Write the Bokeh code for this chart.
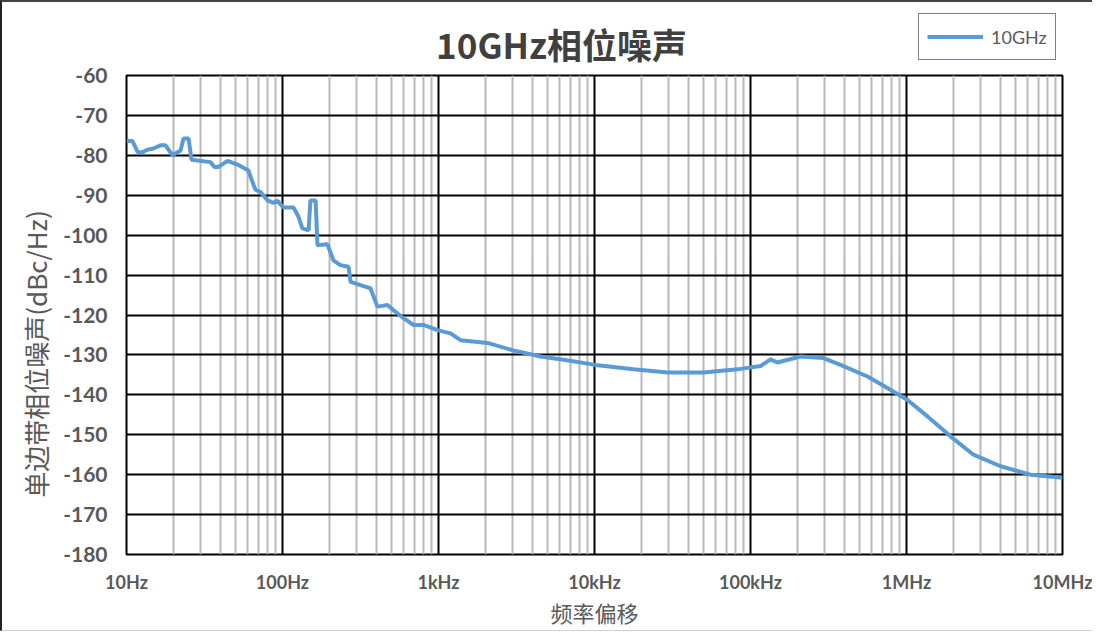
from bokeh.plotting import figure
from bokeh.layouts import column
from bokeh.models import FixedTicker, Range1d, Label, Legend, LegendItem
from bokeh.embed import file_html
from bokeh.resources import INLINE

# ---- data ----
freq_hz = [10.0, 10.9, 11.8, 12.7, 13.6, 14.9, 16.5, 17.8, 19.7, 22.2, 23.2, 25.0, 26.1,
           34.5, 36.6, 38.9, 44.4, 51.5, 60.5, 64.2, 67.1, 72.3, 80.2, 87.5, 92.9, 101.5,
           117.8, 126.7, 134, 147, 151, 163, 167.5, 194, 212, 235, 265, 273, 316, 366,
           406, 471, 515, 597, 692, 801, 986, 1194, 1384, 2061, 3028, 4510, 6330, 10150,
           17800, 29400, 50000, 86300, 115900, 134300, 148900, 209400, 294000, 377600,
           562000, 755000, 1014000, 1364000, 1915000, 2686000, 4008000, 6240000, 10000000]
noise_dbc = [-76.4, -76.4, -79.2, -79.2, -78.6, -78.3, -77.5, -77.5, -80.0, -78.8, -75.8,
             -75.8, -81.1, -81.7, -82.9, -82.9, -81.4, -82.3, -83.8, -86.7, -88.6, -89.2,
             -91.3, -91.9, -91.4, -93.1, -93.1, -95.4, -98.3, -98.8, -91.3, -91.3, -102.5,
             -102.3, -106.3, -107.5, -107.9, -111.7, -112.5, -113.3, -117.9, -117.5, -118.8,
             -120.8, -122.5, -122.5, -123.8, -124.6, -126.3, -127.0, -128.9, -130.4, -131.2,
             -132.5, -133.6, -134.4, -134.4, -133.5, -132.8, -131.1, -131.9, -130.4, -130.8,
             -132.5, -135.4, -138.3, -141.3, -145.4, -150.4, -155.0, -157.9, -160.0, -160.8]
x_ticks = [10, 100, 1000, 10000, 100000, 1000000, 10000000]
x_tick_labels = ["10Hz", "100Hz", "1kHz", "10kHz", "100kHz", "1MHz", "10MHz"]
y_ticks = [-180, -170, -160, -150, -140, -130, -120, -110, -100, -90, -80, -70, -60]
y_tick_labels = ["-180", "-170", "-160", "-150", "-140", "-130", "-120", "-110", "-100",
                 "-90", "-80", "-70", "-60"]
series_name = "10GHz"
title_text = "10GHz相位噪声"
x_label = "频率偏移"
y_label = "单边带相位噪声(dBc/Hz)"

minor = [d * k for d in x_ticks[:-1] for k in range(2, 10)]

GRAY = "#595959"
BLUE = "#5B9BD5"
W = 1090
HEAD_H = 72
OVERLAP = 14
LEFT = 124

# ---------- header strip: title + legend (frame aligned with the chart's) ----------
head = figure(width=W, height=HEAD_H, output_backend="svg", toolbar_location=None,
              x_range=Range1d(0, 1), y_range=Range1d(0, 1),
              x_axis_location=None, y_axis_location=None,
              min_border_left=LEFT, min_border_right=30,
              min_border_top=0, min_border_bottom=0, margin=(0, 0, -OVERLAP, 0))
head.outline_line_color = None
head.xgrid.visible = False
head.ygrid.visible = False
proxy = head.line(freq_hz, noise_dbc, line_color=BLUE, line_width=4)
head.add_layout(Label(x=435, y=31, x_units="screen", y_units="screen",
                      text=title_text, text_font="Noto Sans CJK SC", text_font_style="bold",
                      text_font_size="35px", text_color="#404040",
                      text_align="center", text_baseline="middle"))
lg = Legend(items=[LegendItem(label=series_name, renderers=[proxy])], location=(792, 14))
lg.border_line_color = "black"
lg.border_line_width = 1.5
lg.background_fill_alpha = 1
lg.label_text_font = "Lato"
lg.label_text_font_size = "18px"
lg.label_text_color = GRAY
lg.glyph_width = 56
lg.glyph_height = 29
lg.label_height = 29
lg.label_standoff = 8
lg.padding = 8
lg.margin = 0
head.add_layout(lg, "center")

# ---------- main chart ----------
p = figure(width=W, height=570, x_axis_type="log", output_backend="svg",
           toolbar_location=None, x_range=Range1d(10, 1e7), y_range=Range1d(-180, -60),
           min_border_left=LEFT, min_border_right=30, min_border_top=15,
           min_border_bottom=75)
p.border_fill_alpha = 0
p.outline_line_color = "black"
p.outline_line_width = 2

p.line(freq_hz, noise_dbc, line_color=BLUE, line_width=4)

xa = p.xaxis[0]
xa.ticker = FixedTicker(ticks=x_ticks, minor_ticks=minor)
xa.major_label_overrides = {t: l for t, l in zip(x_ticks, x_tick_labels)}
xa.major_label_text_font = "Lato"
xa.major_label_text_font_style = "bold"
xa.major_label_text_font_size = "18px"
xa.major_label_text_color = GRAY
xa.major_label_standoff = 10
xa.axis_line_color = None
xa.major_tick_line_color = None
xa.minor_tick_line_color = None
xa.axis_label = x_label
xa.axis_label_text_font = "Noto Sans CJK SC"
xa.axis_label_text_font_style = "normal"
xa.axis_label_text_font_size = "22px"
xa.axis_label_text_color = GRAY
xa.axis_label_standoff = 0

ya = p.yaxis[0]
ya.ticker = FixedTicker(ticks=y_ticks)
ya.major_label_overrides = {t: l for t, l in zip(y_ticks, y_tick_labels)}
ya.major_label_text_font = "Lato"
ya.major_label_text_font_style = "bold"
ya.major_label_text_font_size = "21px"
ya.major_label_text_color = GRAY
ya.major_label_standoff = 13
ya.axis_line_color = None
ya.major_tick_line_color = None
ya.minor_tick_line_color = None
ya.axis_label = y_label + "\u3000\u3000\u3000"
ya.axis_label_text_font = "Noto Sans CJK SC"
ya.axis_label_text_font_style = "normal"
ya.axis_label_text_font_size = "26px"
ya.axis_label_text_color = GRAY
ya.axis_label_standoff = 6

p.xgrid.grid_line_color = "black"
p.xgrid.grid_line_width = 2
p.xgrid.minor_grid_line_color = "#b8b8b8"
p.xgrid.minor_grid_line_width = 2
p.ygrid.grid_line_color = "black"
p.ygrid.grid_line_width = 2

page = column(head, p, spacing=0,
              styles={"border-left": "2px solid #222", "border-top": "2px solid #444",
                      "border-bottom": "1px solid #d0d0d0"})

open("out.html", "w").write(file_html(page, INLINE))
